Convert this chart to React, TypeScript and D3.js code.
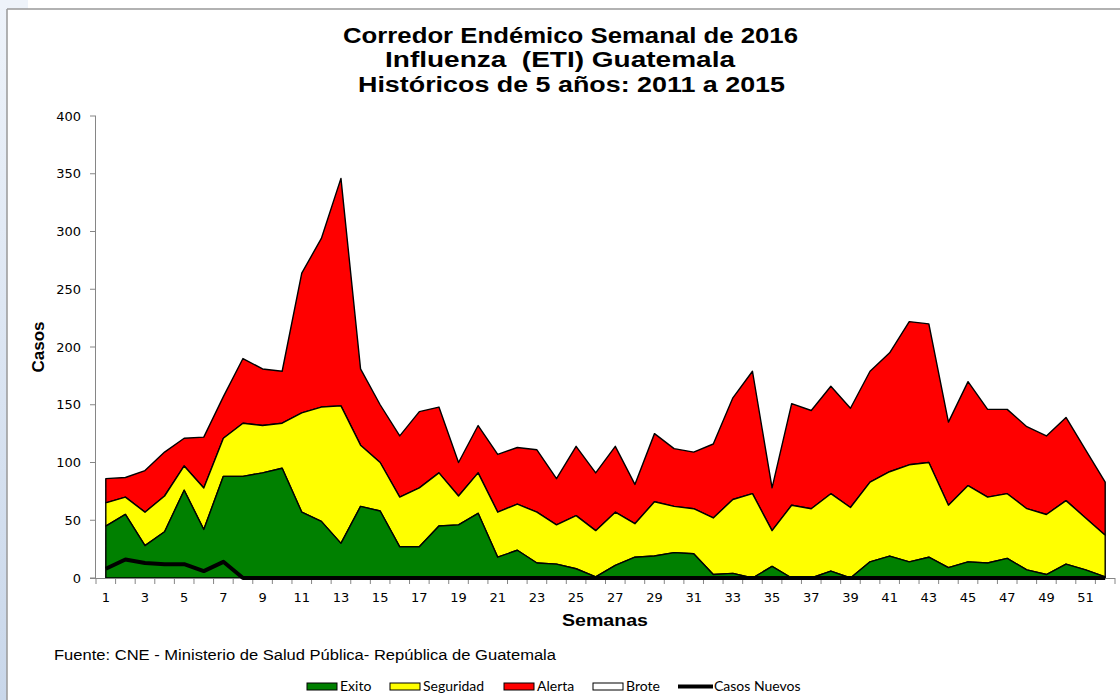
import * as d3 from "d3";

// Semanas epidemiológicas 1..52
const semanas = d3.range(1, 53);

// Límites del corredor (niveles acumulados)
const limiteExito = [
  45, 55, 28, 40, 76, 42, 88, 88, 91, 95, 57, 49, 30, 62, 58, 27, 27, 45, 46, 56,
  18, 24, 13, 12, 8, 1, 11, 18, 19, 22, 21, 3, 4, 0, 10, 0, 0, 6, 0, 14,
  19, 14, 18, 9, 14, 13, 17, 7, 3, 12, 7, 1,
];
const limiteSeguridad = [
  65, 70, 57, 71, 97, 78, 121, 134, 132, 134, 143, 148, 149, 115, 100, 70, 78, 91, 71, 91,
  57, 64, 57, 46, 54, 41, 57, 47, 66, 62, 60, 52, 68, 73, 41, 63, 60, 73, 61, 83,
  92, 98, 100, 63, 80, 70, 73, 60, 55, 67, 52, 37,
];
const limiteAlerta = [
  86, 87, 93, 109, 121, 122, 157, 190, 181, 179, 264, 294, 346, 181, 150, 123, 144, 148, 100, 132,
  107, 113, 111, 86, 114, 91, 114, 81, 125, 112, 109, 116, 156, 179, 78, 151, 145, 166, 147, 179,
  195, 222, 220, 135, 170, 146, 146, 131, 123, 139, 111, 83,
];
const casosNuevos = [
  8, 16, 13, 12, 12, 6, 14, 0, 0, 0, 0, 0, 0, 0, 0, 0, 0, 0, 0, 0,
  0, 0, 0, 0, 0, 0, 0, 0, 0, 0, 0, 0, 0, 0, 0, 0, 0, 0, 0, 0,
  0, 0, 0, 0, 0, 0, 0, 0, 0, 0, 0, 0,
];

const yTicks = [0, 50, 100, 150, 200, 250, 300, 350, 400];

const titulo = [
  "Corredor Endémico Semanal de 2016",
  "Influenza  (ETI) Guatemala",
  "Históricos de 5 años: 2011 a 2015",
];

const leyenda = [
  { nombre: "Exito", color: "#008000", tipo: "area" },
  { nombre: "Seguridad", color: "#ffff00", tipo: "area" },
  { nombre: "Alerta", color: "#ff0000", tipo: "area" },
  { nombre: "Brote", color: "#ffffff", tipo: "area" },
  { nombre: "Casos Nuevos", color: "#000000", tipo: "line" },
];

const W = 1120;
const H = 700;
const margin = { top: 116, right: 5, bottom: 122, left: 96 };

export default function App() {
  const x = d3
    .scaleBand<number>()
    .domain(semanas)
    .range([margin.left, W - margin.right])
    .padding(0);
  const y = d3
    .scaleLinear()
    .domain([0, 400])
    .range([H - margin.bottom, margin.top]);
  const cx = (i: number) => (x(semanas[i]) as number) + x.bandwidth() / 2;

  const banda = (bajo: number[] | null, alto: number[]) =>
    d3
      .area<number>()
      .x((_, i) => cx(i))
      .y0((_, i) => y(bajo ? bajo[i] : 0))
      .y1((_, i) => y(alto[i]))(alto) as string;

  const linea = d3
    .line<number>()
    .x((_, i) => cx(i))
    .y((d) => y(d))(casosNuevos) as string;

  const y0 = y(0);
  const font = "'Liberation Sans', Arial, sans-serif";
  const tickFont = "'DejaVu Sans', Verdana, sans-serif";

  // posición y ancho de cada línea del título
  const tituloPos = [
    { x: 343, y: 43, w: 455 },
    { x: 385, y: 67, w: 350 },
    { x: 358, y: 92, w: 427 },
  ];

  return (
    <svg
      width={W}
      height={H}
      style={{ position: "absolute", left: 0, top: 0, background: "#fff" }}
    >
      <defs>
        <linearGradient id="marco" x1="0" y1="0" x2="0" y2="1">
          <stop offset="0" stopColor="#eef3fa" />
          <stop offset="1" stopColor="#c9d7ea" />
        </linearGradient>
      </defs>
      {/* marco de la diapositiva */}
      <rect x={0} y={0} width={7} height={H} fill="url(#marco)" />
      <rect x={0} y={0} width={28} height={9} fill="#eef3fa" />
      <line x1={7} x2={W} y1={9} y2={9} stroke="#999" strokeWidth={1.5} />
      <line x1={7} x2={7} y1={9} y2={H} stroke="#999" strokeWidth={1.5} />

      {/* título */}
      <g fontFamily={font} fontWeight="bold" fontSize={22} fill="#000">
        {titulo.map((t, i) => (
          <text
            key={i}
            x={tituloPos[i].x}
            y={tituloPos[i].y}
            xmlSpace="preserve"
            style={{ whiteSpace: "pre" }}
            textLength={tituloPos[i].w}
            lengthAdjust="spacingAndGlyphs"
          >
            {t}
          </text>
        ))}
      </g>

      {/* bandas del corredor */}
      <g stroke="#000" strokeWidth={1.4} strokeLinejoin="round">
        <path d={banda(limiteSeguridad, limiteAlerta)} fill="#ff0000" />
        <path d={banda(limiteExito, limiteSeguridad)} fill="#ffff00" />
        <path d={banda(null, limiteExito)} fill="#008000" />
      </g>

      {/* eje Y */}
      <line x1={margin.left - 0.5} x2={margin.left - 0.5} y1={y(400)} y2={y0} stroke="#868686" />
      {yTicks.map((t) => (
        <g key={t}>
          <line x1={margin.left - 6} x2={margin.left} y1={y(t)} y2={y(t)} stroke="#868686" />
          <text
            x={margin.left - 15}
            y={y(t)}
            dy="0.35em"
            textAnchor="end"
            fontFamily={tickFont}
            fontSize={13}
          >
            {t}
          </text>
        </g>
      ))}

      {/* eje X */}
      <line x1={margin.left - 6} x2={W - margin.right} y1={y0 + 0.5} y2={y0 + 0.5} stroke="#868686" />
      {semanas.map((s) => (
        <line
          key={"t" + s}
          x1={(x(s) as number) + x.bandwidth()}
          x2={(x(s) as number) + x.bandwidth()}
          y1={y0}
          y2={y0 + 6}
          stroke="#868686"
        />
      ))}
      <line x1={margin.left} x2={margin.left} y1={y0} y2={y0 + 6} stroke="#868686" />
      {semanas
        .filter((s) => s % 2 === 1)
        .map((s) => (
          <text
            key={"l" + s}
            x={(x(s) as number) + x.bandwidth() / 2}
            y={y0 + 19}
            dy="0.35em"
            textAnchor="middle"
            fontFamily={tickFont}
            fontSize={13}
          >
            {s}
          </text>
        ))}

      {/* casos nuevos */}
      <path d={linea} fill="none" stroke="#000" strokeWidth={4} strokeLinejoin="round" />

      {/* títulos de ejes */}
      <text
        transform={`translate(38,${(y(400) + y0) / 2}) rotate(-90)`}
        textAnchor="middle"
        dy="0.35em"
        fontFamily={font}
        fontWeight="bold"
        fontSize={17}
      >
        Casos
      </text>
      <text
        x={562}
        y={620}
        dy="0.35em"
        fontFamily={font}
        fontWeight="bold"
        fontSize={17}
        textLength={86}
        lengthAdjust="spacingAndGlyphs"
      >
        Semanas
      </text>

      {/* fuente */}
      <text x={54} y={660} fontFamily={font} fontSize={14} textLength={502} lengthAdjust="spacingAndGlyphs">
        Fuente: CNE - Ministerio de Salud Pública- República de Guatemala
      </text>

      {/* leyenda */}
      <g fontFamily="Lato, 'Open Sans', sans-serif" fontSize={14}>
        {leyenda.map((d, i) => {
          const posX = [307, 390, 504, 593, 678][i];
          return (
            <g key={d.nombre} transform={`translate(${posX},686)`}>
              {d.tipo === "area" ? (
                <rect x={0} y={-3} width={30} height={7} fill={d.color} stroke="#000" strokeWidth={1} />
              ) : (
                <line x1={0} x2={35} y1={0.5} y2={0.5} stroke={d.color} strokeWidth={4} />
              )}
              <text x={d.tipo === "area" ? 33 : 36} y={0} dy="0.35em">
                {d.nombre}
              </text>
            </g>
          );
        })}
      </g>
    </svg>
  );
}
